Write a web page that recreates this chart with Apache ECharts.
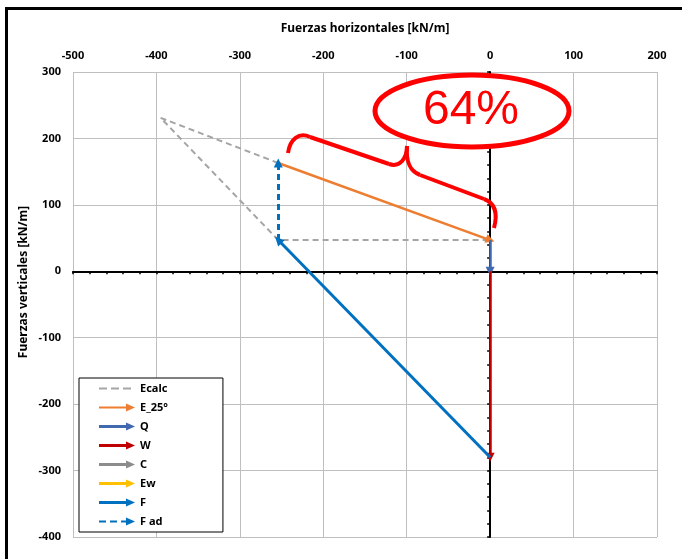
<!DOCTYPE html>
<html>
<head>
<meta charset="utf-8">
<script src="https://cdn.jsdelivr.net/npm/echarts@6/dist/echarts.min.js"></script>
<style>
  html, body { margin: 0; padding: 0; background: #fff; }
  #chart { width: 682px; height: 559px; }
</style>
</head>
<body>
<div id="chart"></div>
<script>
// vectores [x, y] en kN/m
var ecalcPts = [[-254, 163], [-395, 231], [-254, 47], [0, 47]];
var e25Vec = [[-254, 163], [0, 47]];
var qVec = [[0, 47], [0, 0]];
var wVec = [[0, 0], [0, -280]];
var cVec = [];
var ewVec = [];
var fVec = [[0, -280], [-254, 47]];
var fAdVec = [[-254, 47], [-254, 163]];

var xTicks = [-500, -400, -300, -200, -100, 0, 100, 200];
var yTicks = [-400, -300, -200, -100, 0, 100, 200, 300];
var pctLabel = '64%';

var FONT = '"Noto Sans", "DejaVu Sans", sans-serif';

var arrowIcon = function (t) {
    var a = 4 - t / 2, b = 4 + t / 2;
    return 'path://M0,' + a + 'L27,' + a + 'L27,0L36,4L27,8L27,' + b + 'L0,' + b + 'Z';
};
var dashIcon = 'path://M0,3L8,3L8,5L0,5Z M12,3L20,3L20,5L12,5Z M24,3L32,3L32,5L24,5Z M35,3.9L36,3.9L36,4.1L35,4.1Z';
var dashArrowIcon = 'path://M0,3L7,3L7,5L0,5Z M11,3L18,3L18,5L11,5Z M22,3L27,3L27,0L36,4L27,8L27,5L22,5Z';

function vec(name, pts, color, width, dashed) {
    return {
        name: name,
        type: 'lines',
        coordinateSystem: 'cartesian2d',
        xAxisIndex: 0,
        yAxisIndex: 0,
        polyline: false,
        symbol: ['none', 'triangle'],
        symbolSize: [8, 9],
        lineStyle: { color: color, width: width, type: dashed ? [6, 4] : 'solid', opacity: 1, curveness: 0 },
        itemStyle: { color: color },
        z: 5,
        data: pts.length ? [{ coords: pts }] : []
    };
}

var chart = echarts.init(document.getElementById('chart'));

var option = {
    backgroundColor: '#fff',
    animation: false,
    grid: { left: 73, right: 25, top: 72, bottom: 22, show: false },
    xAxis: [{
        type: 'value', position: 'top', min: xTicks[0], max: xTicks[xTicks.length - 1], interval: 100,
        name: 'Fuerzas horizontales [kN/m]', nameLocation: 'middle', nameGap: 37,
        nameTextStyle: { fontFamily: FONT, fontWeight: 'bold', fontSize: 12, color: '#000' },
        axisLine: { show: false }, axisTick: { show: false },
        axisLabel: { fontFamily: FONT, fontWeight: 'bold', fontSize: 11, color: '#000', margin: 11 },
        splitLine: { show: true, lineStyle: { color: '#BFBFBF', width: 1 } }
    }, {
        type: 'value', position: 'bottom', min: xTicks[0], max: xTicks[xTicks.length - 1], interval: 20,
        axisLine: { show: true, onZero: true, lineStyle: { color: '#000', width: 2 } },
        axisTick: { show: true, length: 3, lineStyle: { color: '#000', width: 1.5 } },
        axisLabel: { show: false }, splitLine: { show: false }
    }],
    yAxis: [{
        type: 'value', position: 'left', min: yTicks[0], max: yTicks[yTicks.length - 1], interval: 100,
        axisLine: { show: false }, axisTick: { show: false },
        axisLabel: { fontFamily: FONT, fontWeight: 'bold', fontSize: 11, color: '#000', margin: 12 },
        splitLine: { show: true, lineStyle: { color: '#BFBFBF', width: 1 } }
    }, {
        type: 'value', position: 'right', min: yTicks[0], max: yTicks[yTicks.length - 1], interval: 20,
        axisLine: { show: true, onZero: true, lineStyle: { color: '#000', width: 2 } },
        axisTick: { show: true, inside: true, length: 3, lineStyle: { color: '#000', width: 1.5 } },
        axisLabel: { show: false }, splitLine: { show: false }
    }],
    legend: {
        orient: 'vertical', left: 79, top: 378,
        itemWidth: 36, itemHeight: 8, itemGap: 6,
        padding: [4, 55, 4, 20],
        backgroundColor: '#fff', borderColor: '#000', borderWidth: 1,
        textStyle: { fontFamily: FONT, fontWeight: 'bold', fontSize: 11, color: '#000', lineHeight: 13 },
        selectedMode: false,
        data: [
            { name: 'Ecalc', icon: dashIcon, itemStyle: { color: '#A5A5A5', borderWidth: 0 } },
            { name: 'E_25°', icon: arrowIcon(2), itemStyle: { color: '#ED7D31', borderWidth: 0 } },
            { name: 'Q', icon: arrowIcon(3), itemStyle: { color: '#4169B0', borderWidth: 0 } },
            { name: 'W', icon: arrowIcon(3), itemStyle: { color: '#C00000', borderWidth: 0 } },
            { name: 'C', icon: arrowIcon(3), itemStyle: { color: '#8C8C8C', borderWidth: 0 } },
            { name: 'Ew', icon: arrowIcon(3), itemStyle: { color: '#FFC000', borderWidth: 0 } },
            { name: 'F', icon: arrowIcon(3), itemStyle: { color: '#0070C0', borderWidth: 0 } },
            { name: 'F ad', icon: dashArrowIcon, itemStyle: { color: '#0070C0', borderWidth: 0 } }
        ]
    },
    series: [
        {
            name: 'Ecalc', type: 'line', xAxisIndex: 0, yAxisIndex: 0,
            data: ecalcPts, showSymbol: false, symbol: 'none',
            lineStyle: { color: '#A5A5A5', width: 2, type: [6, 4] },
            itemStyle: { color: '#A5A5A5' }, z: 4
        },
        vec('E_25°', e25Vec, '#ED7D31', 2.5, false),
        vec('Q', qVec, '#4169B0', 2.5, false),
        vec('W', wVec, '#C00000', 2.5, false),
        vec('C', cVec, '#8C8C8C', 2.5, false),
        vec('Ew', ewVec, '#FFC000', 2.5, false),
        vec('F', fVec, '#0070C0', 3, false),
        vec('F ad', fAdVec, '#0070C0', 3, true)
    ],
    graphic: [
        { type: 'polyline', shape: { points: [[6.5, 559], [6.5, 8.5], [682, 8.5]] },
          style: { stroke: '#000', lineWidth: 3, fill: null }, z: 50 },
        { type: 'text', x: 24, y: 282, rotation: Math.PI / 2,
          style: { text: 'Fuerzas verticales [kN/m]', font: 'bold 12px ' + FONT, fill: '#000', align: 'center', verticalAlign: 'middle' }, z: 50 },
        { type: 'ellipse', shape: { cx: 472, cy: 111, rx: 97, ry: 36 },
          style: { fill: '#fff', stroke: '#FF0000', lineWidth: 5 }, z: 60 },
        { type: 'text', x: 471, y: 111,
          style: { text: pctLabel, font: '48px "Liberation Sans", Arial, sans-serif', fill: '#FF0000', align: 'center', verticalAlign: 'middle' }, z: 61 },
        { type: 'bezierCurve', shape: { x1: 288, y1: 153, cpx1: 290, cpy1: 139, cpx2: 299, cpy2: 132, x2: 310, y2: 137 },
          style: { stroke: '#FF0000', lineWidth: 4, fill: null }, z: 62 },
        { type: 'line', shape: { x1: 310, y1: 137, x2: 389, y2: 164 },
          style: { stroke: '#FF0000', lineWidth: 4 }, z: 62 },
        { type: 'bezierCurve', shape: { x1: 389, y1: 164, cpx1: 400, cpy1: 168, cpx2: 407, cpy2: 158, x2: 407, y2: 146 },
          style: { stroke: '#FF0000', lineWidth: 4, fill: null }, z: 62 },
        { type: 'bezierCurve', shape: { x1: 407, y1: 146, cpx1: 406, cpy1: 161, cpx2: 409, cpy2: 171, x2: 420, y2: 175 },
          style: { stroke: '#FF0000', lineWidth: 4, fill: null }, z: 62 },
        { type: 'line', shape: { x1: 420, y1: 175, x2: 484, y2: 199 },
          style: { stroke: '#FF0000', lineWidth: 4 }, z: 62 },
        { type: 'bezierCurve', shape: { x1: 484, y1: 199, cpx1: 495, cpy1: 203, cpx2: 498, cpy2: 213, x2: 494, y2: 228 },
          style: { stroke: '#FF0000', lineWidth: 4, fill: null }, z: 62 }
    ]
};

chart.setOption(option);
</script>
</body>
</html>
